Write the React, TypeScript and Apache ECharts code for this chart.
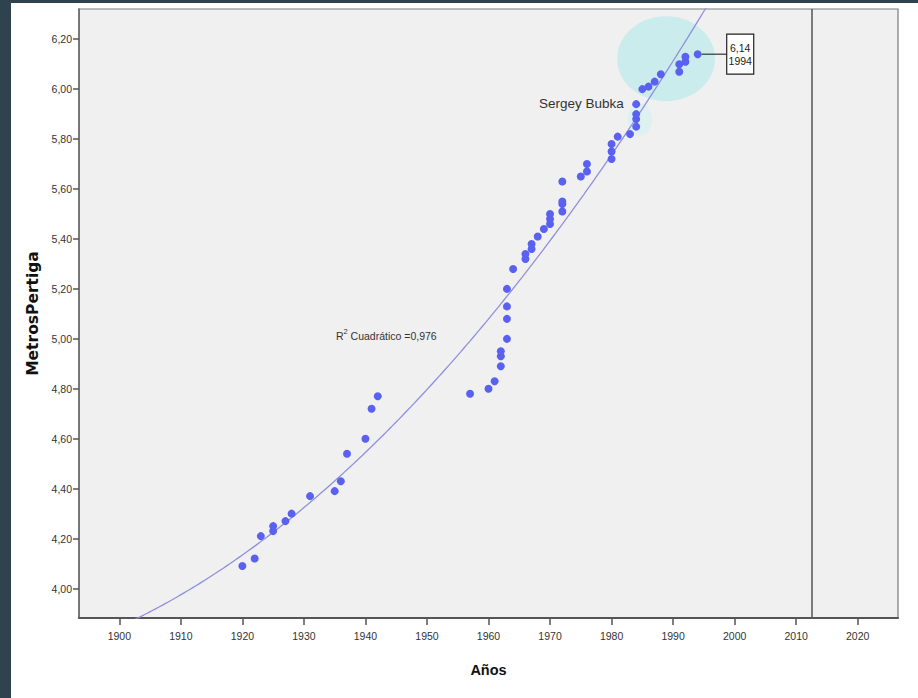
import React, { useEffect, useRef } from "react";
import * as echarts from "echarts";

// ---- Data ----
const YEARS = [
  1920, 1922, 1923, 1925, 1925, 1927, 1928, 1931, 1935, 1936, 1937, 1940, 1941, 1942,
  1957, 1960, 1961, 1962, 1962, 1962, 1963, 1963, 1963, 1963, 1964,
  1966, 1966, 1967, 1967, 1968, 1969, 1970, 1970, 1970, 1972, 1972, 1972, 1972,
  1975, 1976, 1976, 1980, 1980, 1980, 1981, 1983, 1984, 1984, 1984, 1984,
  1985, 1986, 1987, 1988, 1991, 1991, 1992, 1992, 1994,
];
const HEIGHTS = [
  4.09, 4.12, 4.21, 4.23, 4.25, 4.27, 4.3, 4.37, 4.39, 4.43, 4.54, 4.6, 4.72, 4.77,
  4.78, 4.8, 4.83, 4.89, 4.93, 4.95, 5.0, 5.08, 5.13, 5.2, 5.28,
  5.32, 5.34, 5.36, 5.38, 5.41, 5.44, 5.46, 5.48, 5.5, 5.51, 5.54, 5.55, 5.63,
  5.65, 5.67, 5.7, 5.72, 5.75, 5.78, 5.81, 5.82, 5.85, 5.88, 5.9, 5.94,
  6.0, 6.01, 6.03, 6.06, 6.07, 6.1, 6.11, 6.13, 6.14,
];

const X_TICKS = [1900, 1910, 1920, 1930, 1940, 1950, 1960, 1970, 1980, 1990, 2000, 2010, 2020];
const Y_TICKS = [4.0, 4.2, 4.4, 4.6, 4.8, 5.0, 5.2, 5.4, 5.6, 5.8, 6.0, 6.2];

const X_MIN = 1893.45;
const X_MAX = 2026.55;
const Y_MIN = 3.882;
const Y_MAX = 6.321;
const REF_YEAR = 2012.6;

const R2_TEXT = "0,976";
const RECORD_YEAR = 1994;
const RECORD_VALUE = 6.14;

// highlight ellipses in data units: [centerYear, centerValue, radiusYears, radiusValue]
const BIG_ELLIPSE = [1988.85, 6.122, 7.96, 0.17];
const SMALL_ELLIPSE = [1984.6, 5.878, 2.0, 0.065];
const BUBKA_ANCHOR = [1982.0, 5.942];
const R2_ANCHOR = [1935.2, 5.016];

// least-squares quadratic fit (computed from the data)
function fitQuadratic(xs: number[], ys: number[]) {
  const c0 = 1950;
  let s0 = 0, s1 = 0, s2 = 0, s3 = 0, s4 = 0, t0 = 0, t1 = 0, t2 = 0;
  for (let i = 0; i < xs.length; i++) {
    const t = xs[i] - c0;
    const y = ys[i];
    s0 += 1; s1 += t; s2 += t * t; s3 += t * t * t; s4 += t * t * t * t;
    t0 += y; t1 += y * t; t2 += y * t * t;
  }
  const det = (m: number[][]) =>
    m[0][0] * (m[1][1] * m[2][2] - m[1][2] * m[2][1]) -
    m[0][1] * (m[1][0] * m[2][2] - m[1][2] * m[2][0]) +
    m[0][2] * (m[1][0] * m[2][1] - m[1][1] * m[2][0]);
  const M = [[s0, s1, s2], [s1, s2, s3], [s2, s3, s4]];
  const R = [t0, t1, t2];
  const D = det(M);
  const coef = [0, 1, 2].map((k) => {
    const Mk = M.map((row, i) => row.map((v, j) => (j === k ? R[i] : v)));
    return det(Mk) / D;
  });
  return (x: number) => {
    const t = x - c0;
    return coef[0] + coef[1] * t + coef[2] * t * t;
  };
}

const NARROW = "'Liberation Sans Narrow', 'Arial Narrow', 'Liberation Sans', sans-serif";

export default function App() {
  const ref = useRef<HTMLDivElement>(null);

  useEffect(() => {
    if (!ref.current) return;
    const chart = echarts.init(ref.current, undefined, { renderer: "svg" });
    const f = fitQuadratic(YEARS, HEIGHTS);
    const curve: number[][] = [];
    for (let yr = X_MIN; yr <= X_MAX + 1e-9; yr += 0.5) curve.push([yr, f(yr)]);
    const points = YEARS.map((y, i) => [y, HEIGHTS[i]]);

    chart.setOption({
      animation: false,
      backgroundColor: "transparent",
      grid: {
        left: 79,
        right: 20,
        top: 9,
        bottom: 80,
        show: true,
        backgroundColor: "#f0f0f0",
        borderColor: "#7a7a7a",
        borderWidth: 1.2,
      },
      xAxis: {
        type: "value",
        min: X_MIN,
        max: X_MAX,
        name: "Años",
        nameLocation: "middle",
        nameGap: 44,
        nameTextStyle: { fontFamily: NARROW, fontSize: 14.5, fontWeight: "bold", color: "#111" },
        axisLine: { show: true, onZero: false, lineStyle: { color: "#555", width: 2 } },
        axisTick: { show: true, length: 7, customValues: X_TICKS, lineStyle: { color: "#555", width: 1.5 } },
        axisLabel: {
          customValues: X_TICKS,
          margin: 12,
          fontFamily: NARROW,
          fontSize: 10.5,
          color: "#333",
          formatter: (v: number) => String(Math.round(v)),
        },
        splitLine: { show: false },
      },
      yAxis: {
        type: "value",
        min: Y_MIN,
        max: Y_MAX,
        name: "MetrosPertiga",
        nameLocation: "middle",
        nameGap: 32,
        nameTextStyle: { fontFamily: "'DejaVu Sans', sans-serif", fontSize: 15.5, fontWeight: "bold", color: "#111" },
        axisLine: { show: true, onZero: false, lineStyle: { color: "#666", width: 1.5 } },
        axisTick: { show: true, length: 6, customValues: Y_TICKS, lineStyle: { color: "#555", width: 1.5 } },
        axisLabel: {
          customValues: Y_TICKS,
          margin: 7,
          fontFamily: NARROW,
          fontSize: 10.5,
          color: "#333",
          formatter: (v: number) => v.toFixed(2).replace(".", ","),
        },
        splitLine: { show: false },
      },
      series: [
        {
          type: "line",
          data: curve,
          showSymbol: false,
          symbol: "none",
          clip: true,
          z: 3,
          lineStyle: { color: "#8f90dc", width: 1.3 },
          silent: true,
        },
        {
          type: "scatter",
          data: points,
          symbolSize: 8,
          z: 4,
          itemStyle: { color: "#5a60f0", opacity: 1 },
          markLine: {
            silent: true,
            symbol: "none",
            label: { show: false },
            lineStyle: { color: "#555", width: 1.5, type: "solid" },
            data: [{ xAxis: REF_YEAR }],
          },
        },
      ],
    });

    const px = (x: number, y: number) => chart.convertToPixel({ gridIndex: 0 }, [x, y]) as number[];
    const ell = (e: number[], fill: string) => {
      const c = px(e[0], e[1]);
      const r = px(e[0] + e[2], e[1] + e[3]);
      return {
        type: "ellipse",
        z: 1,
        silent: true,
        shape: { cx: c[0], cy: c[1], rx: r[0] - c[0], ry: c[1] - r[1] },
        style: { fill },
      };
    };
    const bub = px(BUBKA_ANCHOR[0], BUBKA_ANCHOR[1]);
    const r2 = px(R2_ANCHOR[0], R2_ANCHOR[1]);
    const rec = px(RECORD_YEAR, RECORD_VALUE);
    const boxLeft = rec[0] + 29;
    const boxW = 27;
    const boxH = 40;

    chart.setOption({
      graphic: [
        ell(BIG_ELLIPSE, "#cbeced"),
        ell(SMALL_ELLIPSE, "#dcf1f0"),
        {
          type: "text",
          z: 10,
          silent: true,
          x: bub[0],
          y: bub[1],
          style: {
            text: "Sergey Bubka",
            align: "right",
            textAlign: "right",
            verticalAlign: "middle",
            textVerticalAlign: "middle",
            fontFamily: NARROW,
            fontSize: 13.5,
            fill: "#333",
          },
        },
        {
          type: "text",
          z: 10,
          silent: true,
          x: r2[0],
          y: r2[1],
          style: {
            text: "{n|R}{s|2}{n| Cuadrático =" + R2_TEXT + "}",
            align: "left",
            textAlign: "left",
            verticalAlign: "middle",
            textVerticalAlign: "middle",
            rich: {
              n: { fontFamily: NARROW, fontSize: 10.5, fill: "#333", color: "#333", lineHeight: 14, verticalAlign: "bottom" },
              s: { fontFamily: NARROW, fontSize: 7.5, fill: "#333", color: "#333", lineHeight: 14, verticalAlign: "top" },
            },
          },
        },
        {
          type: "line",
          z: 10,
          silent: true,
          shape: { x1: rec[0] + 4, y1: rec[1], x2: boxLeft, y2: rec[1] },
          style: { stroke: "#333", lineWidth: 1.2 },
        },
        {
          type: "rect",
          z: 10,
          silent: true,
          shape: { x: boxLeft, y: rec[1] - boxH / 2, width: boxW, height: boxH },
          style: { fill: "#ffffff", stroke: "#222", lineWidth: 1.2 },
        },
        {
          type: "text",
          z: 11,
          silent: true,
          x: boxLeft + boxW / 2,
          y: rec[1],
          style: {
            text: RECORD_VALUE.toFixed(2).replace(".", ",") + "\n" + RECORD_YEAR,
            align: "center",
            textAlign: "center",
            verticalAlign: "middle",
            textVerticalAlign: "middle",
            fontFamily: NARROW,
            fontSize: 10.5,
            lineHeight: 13,
            fill: "#222",
          },
        },
      ],
    });

    return () => chart.dispose();
  }, []);

  return (
    <div style={{ position: "fixed", left: 0, top: 0, width: 918, height: 698, background: "#2f434e", overflow: "hidden" }}>
      <div style={{ position: "absolute", left: 11, top: 3, right: 0, bottom: 0, background: "#ffffff" }} />
      <div ref={ref} style={{ position: "absolute", left: 0, top: 0, width: 918, height: 698 }} />
    </div>
  );
}
